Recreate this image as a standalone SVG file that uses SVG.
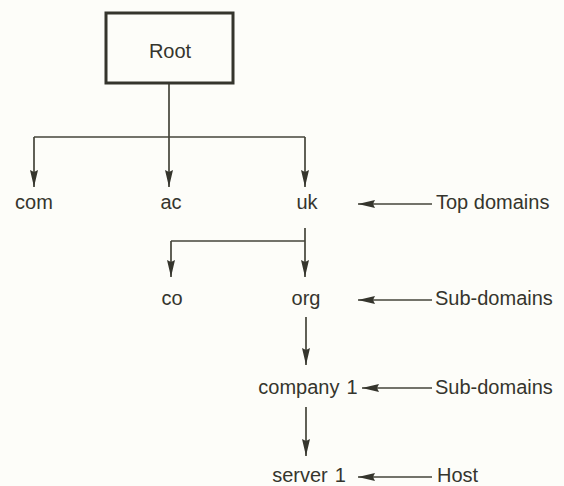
<svg xmlns="http://www.w3.org/2000/svg" width="564" height="486" viewBox="0 0 564 486">
<defs>
<style>
text{font-family:"Liberation Sans",Arial,Helvetica,sans-serif;font-size:20px;fill:#35352d}
.mid{text-anchor:middle}
.ws{word-spacing:1.5px}
.ln{stroke:#45453a;stroke-width:1.7;fill:none}
</style>
<marker id="ah" viewBox="0 0 17 8" refX="17" refY="4" markerWidth="17" markerHeight="8" markerUnits="userSpaceOnUse" orient="auto">
<path d="M0,0 L17,4 L0,8 L2,4 Z" fill="#35352d"/>
</marker>
</defs>
<rect width="564" height="486" fill="#fdfdf9"/>
<g id="connectors">
<path class="ln" d="M169,83 V187" marker-end="url(#ah)"/>
<path class="ln" d="M34,137 H305"/>
<path class="ln" d="M34,137 V187" marker-end="url(#ah)"/>
<path class="ln" d="M305,137 V187" marker-end="url(#ah)"/>
<path class="ln" d="M305,228 V277" marker-end="url(#ah)"/>
<path class="ln" d="M171,241 H305"/>
<path class="ln" d="M171,241 V277" marker-end="url(#ah)"/>
<path class="ln" d="M306,317 V365" marker-end="url(#ah)"/>
<path class="ln" d="M306,407 V456" marker-end="url(#ah)"/>
<path class="ln" d="M432,204 H358" marker-end="url(#ah)"/>
<path class="ln" d="M432,300 H358" marker-end="url(#ah)"/>
<path class="ln" d="M432,388 H362" marker-end="url(#ah)"/>
<path class="ln" d="M432,477 H358" marker-end="url(#ah)"/>
</g>
<g id="root">
<rect x="106" y="13" width="127" height="70" fill="none" stroke="#35352d" stroke-width="3"/>
<text class="mid" x="170" y="58">Root</text>
</g>
<g id="com"><text class="mid" x="34" y="209">com</text></g>
<g id="ac"><text class="mid" x="171" y="209">ac</text></g>
<g id="uk"><text class="mid" x="307" y="209">uk</text></g>
<g id="co"><text class="mid" x="172" y="305">co</text></g>
<g id="org"><text class="mid" x="306" y="305">org</text></g>
<g id="company1"><text class="mid ws" x="308" y="394">company 1</text></g>
<g id="server1"><text class="mid ws" x="309" y="482">server 1</text></g>
<g id="label-top"><text x="436" y="209">Top domains</text></g>
<g id="label-sub1"><text x="435" y="305">Sub-domains</text></g>
<g id="label-sub2"><text x="435" y="394">Sub-domains</text></g>
<g id="label-host"><text x="437" y="482">Host</text></g>
</svg>
